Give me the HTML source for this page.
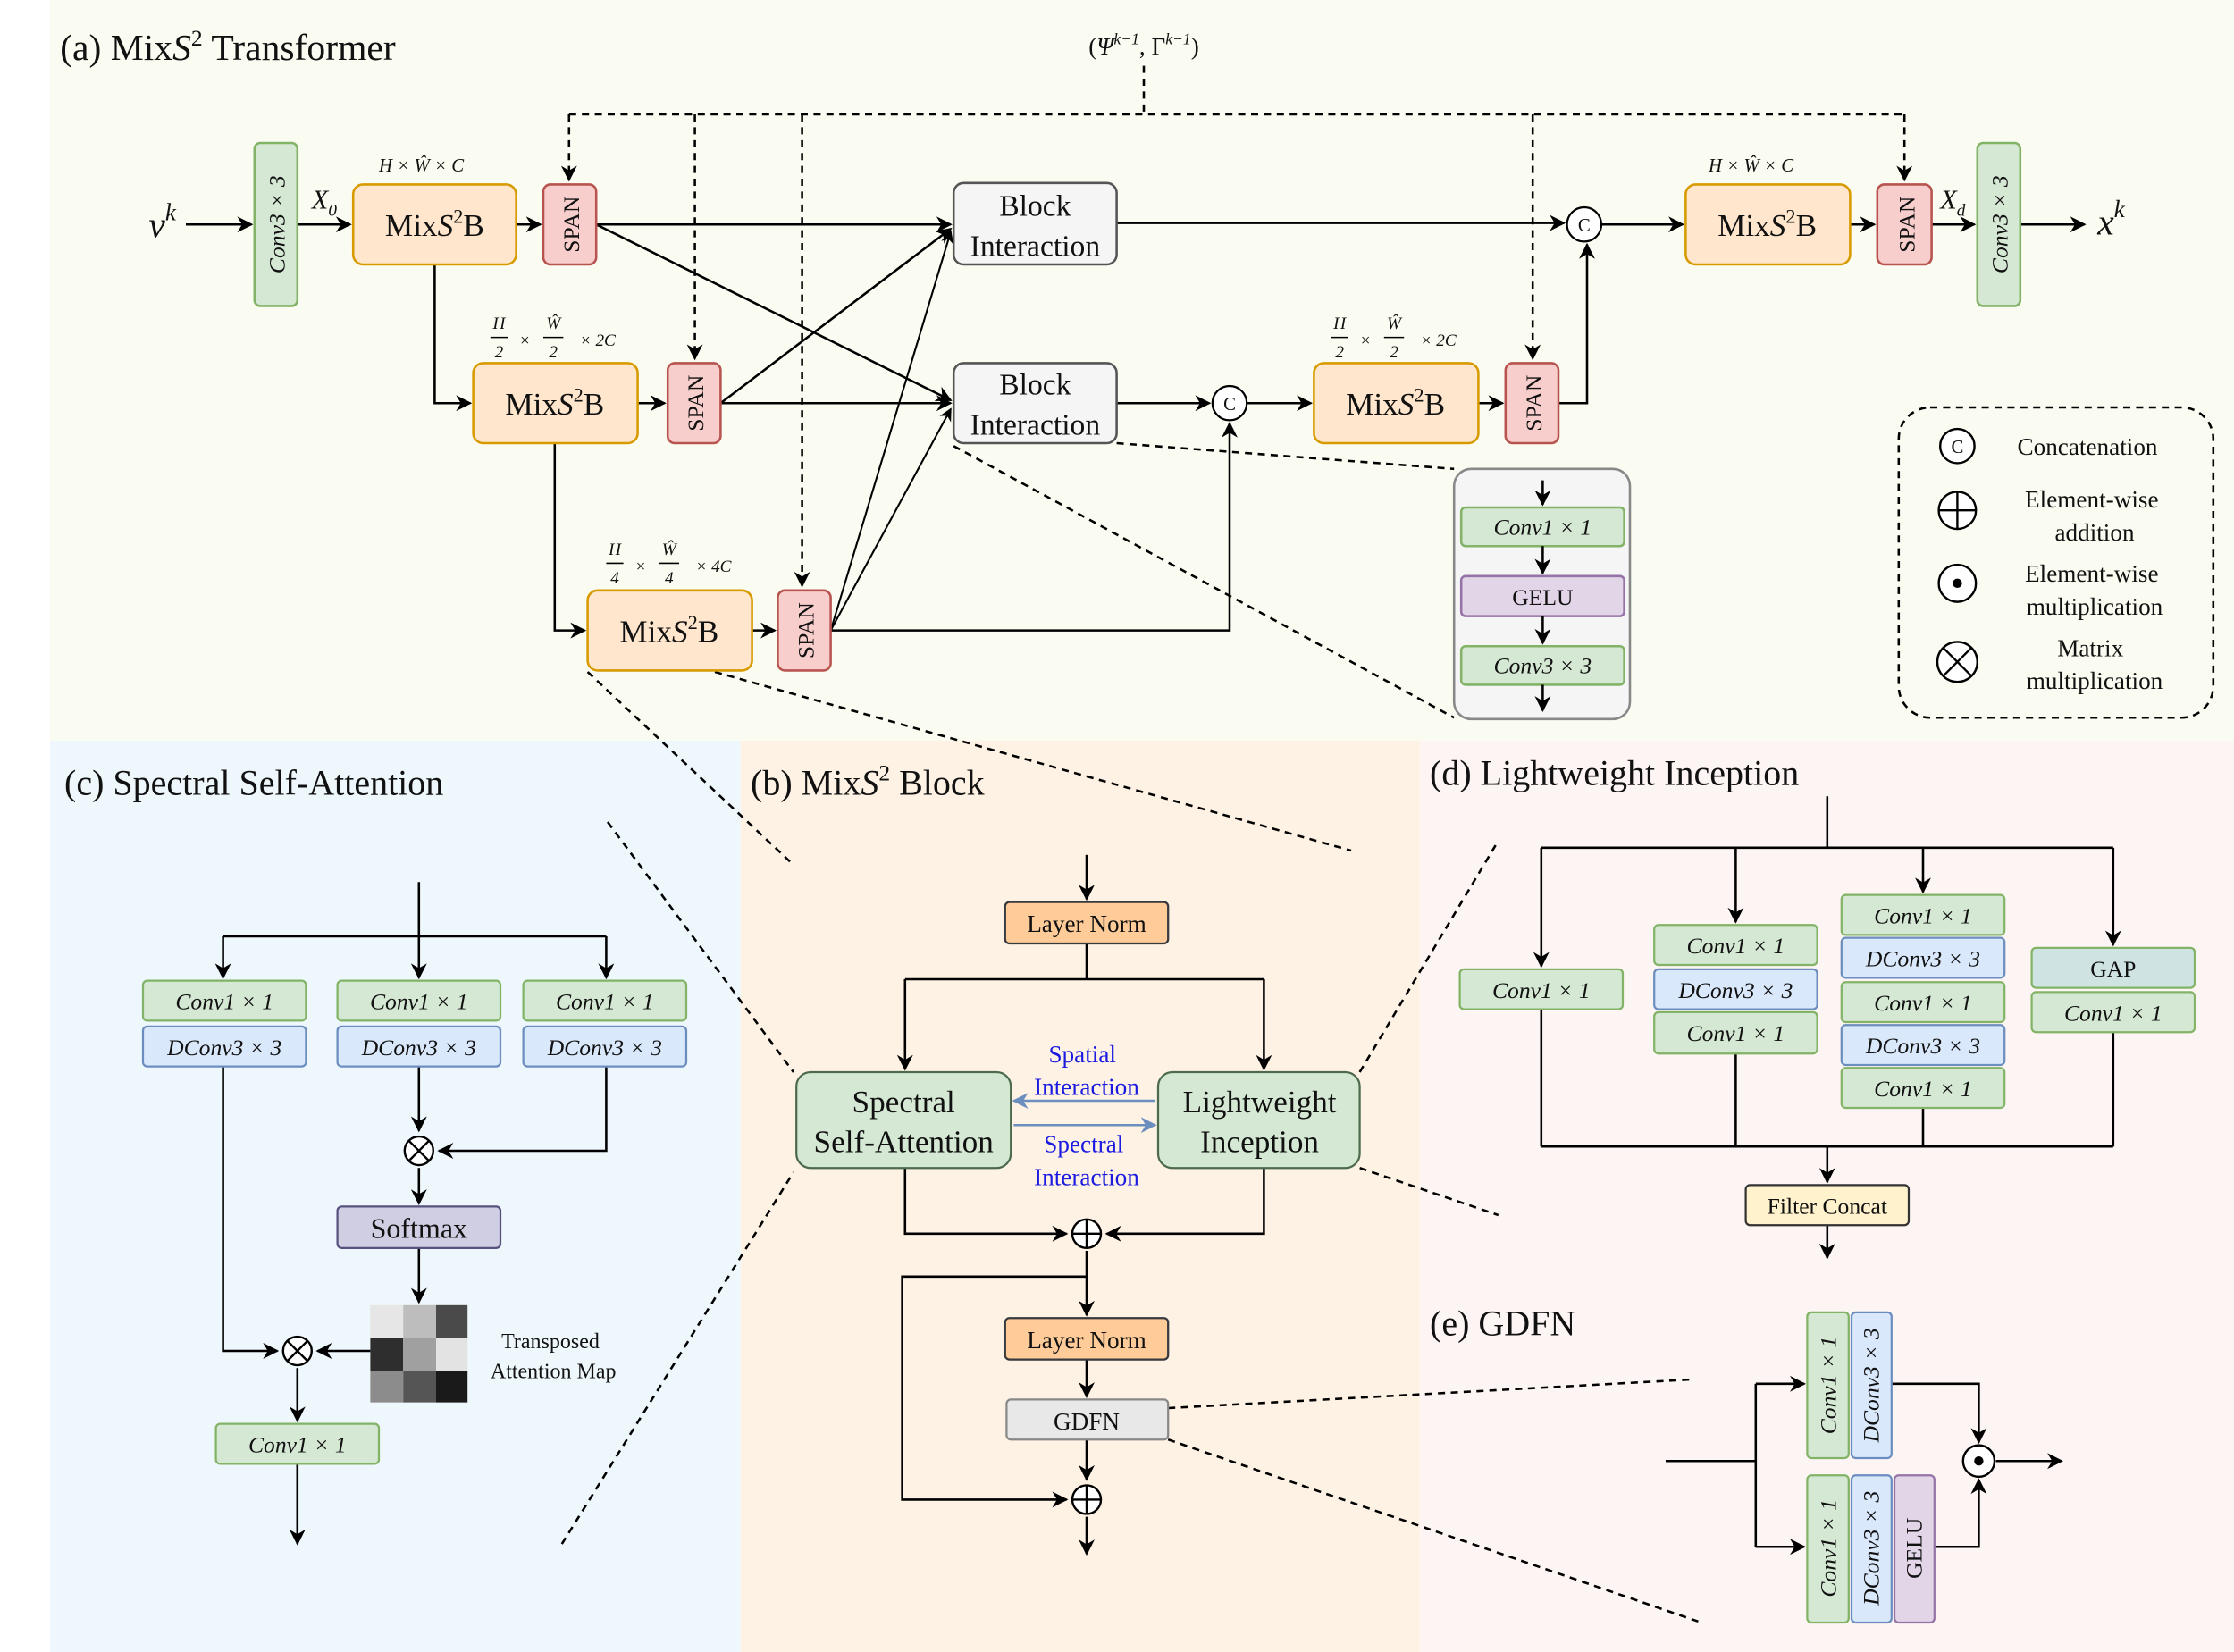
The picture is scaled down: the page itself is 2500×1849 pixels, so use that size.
<!DOCTYPE html>
<html><head><meta charset="utf-8"><style>
html,body{margin:0;padding:0;background:#fff}
svg{display:block}
text{font-family:"Liberation Serif",serif;fill:#111}
.it{font-style:italic}
text.blue{fill:#1a1ae0}
</style></head><body>
<svg width="2500" height="1849" viewBox="0 0 1562.5 1155.6" xmlns="http://www.w3.org/2000/svg">
<defs>
<marker id="a" viewBox="0 0 10 10" refX="9" refY="5" markerWidth="7" markerHeight="7" orient="auto-start-reverse"><path d="M0,0 L10,5 L0,10 L3,5z" fill="#000"/></marker>
<marker id="b" viewBox="0 0 10 10" refX="9" refY="5" markerWidth="7" markerHeight="7" orient="auto"><path d="M0,0 L10,5 L0,10 L3,5z" fill="#6c8ebf"/></marker>
</defs>
<!-- backgrounds -->
<rect x="35" y="0" width="1528" height="518" fill="#fbfcf1"/>
<rect x="35" y="518" width="483" height="638" fill="#eef7fc"/>
<rect x="518" y="518" width="475" height="638" fill="#fdf2e4"/>
<rect x="993" y="518" width="570" height="387" fill="#fdf5f3"/>
<rect x="993" y="905" width="570" height="251" fill="#fdf5f3"/>

<g stroke="#000" stroke-width="1.6" fill="none">
<!-- (a) dashed -->
<g stroke-dasharray="5,4">
<path d="M800 46 V80 M398 80 H1332"/>
<path d="M398 80 V126" marker-end="url(#a)"/>
<path d="M486 80 V251" marker-end="url(#a)"/>
<path d="M561 80 V410" marker-end="url(#a)"/>
<path d="M1072 80 V251" marker-end="url(#a)"/>
<path d="M1332 80 V126" marker-end="url(#a)"/>
<path d="M781 310 L1017 328 M667 312 L1017 502"/>
<path d="M411 470 L555 605 M500 470 L945 595"/>
<path d="M425 575 L555 750 M393 1080 L555 820"/>
<path d="M951 750 L1048 588 M951 817 L1048 850"/>
<path d="M817 985 L1183 965 M817 1007 L1190 1135"/>
</g>
<!-- (a) arrows -->
<path d="M130 157 H176" marker-end="url(#a)"/>
<path d="M208 157 H245" marker-end="url(#a)"/>
<path d="M361 157 H378" marker-end="url(#a)"/>
<path d="M417 157 H665" marker-end="url(#a)"/>
<path d="M417 157 L665 280" marker-end="url(#a)"/>
<path d="M781 156 H1094" marker-end="url(#a)"/>
<path d="M1120 157 H1177" marker-end="url(#a)"/>
<path d="M1294 157 H1311" marker-end="url(#a)"/>
<path d="M1351 157 H1381" marker-end="url(#a)"/>
<path d="M1413 157 H1458" marker-end="url(#a)"/>
<path d="M304 185 V282 H329" marker-end="url(#a)"/>
<path d="M446 282 H465" marker-end="url(#a)"/>
<path d="M504 282 H665" marker-end="url(#a)"/>
<path d="M504 282 L665 160" marker-end="url(#a)"/>
<path d="M781 282 H846" marker-end="url(#a)"/>
<path d="M872 282 H917" marker-end="url(#a)"/>
<path d="M1034 282 H1051" marker-end="url(#a)"/>
<path d="M1090 282 H1110 V171" marker-end="url(#a)"/>
<path d="M388 310 V441 H409" marker-end="url(#a)"/>
<path d="M526 441 H542" marker-end="url(#a)"/>
<path d="M581 441 H860 V296" marker-end="url(#a)"/>
<path d="M581 441 L665 162" marker-end="url(#a)" stroke-width="1.3"/>
<path d="M581 441 L665 286" marker-end="url(#a)" stroke-width="1.3"/>
<circle cx="1108" cy="157" r="12" stroke-width="1.4" fill="#fff"/>
<circle cx="860" cy="282" r="12" stroke-width="1.4" fill="#fff"/>

<!-- (c) -->
<path d="M293 617 V655 M156 655 H424"/>
<path d="M156 655 V684" marker-end="url(#a)"/>
<path d="M293 655 V684" marker-end="url(#a)"/>
<path d="M424 655 V684" marker-end="url(#a)"/>
<path d="M156 746 V945 H194" marker-end="url(#a)"/>
<path d="M293 746 V791" marker-end="url(#a)"/>
<path d="M424 746 V805 H307" marker-end="url(#a)"/>
<path d="M293 817 V842" marker-end="url(#a)"/>
<path d="M293 873 V911" marker-end="url(#a)"/>
<path d="M259 945 H222" marker-end="url(#a)"/>
<path d="M208 957 V994" marker-end="url(#a)"/>
<path d="M208 1024 V1080" marker-end="url(#a)"/>

<!-- (b) -->
<path d="M760 598 V629" marker-end="url(#a)"/>
<path d="M760 660 V685 M633 685 H884"/>
<path d="M633 685 V748" marker-end="url(#a)"/>
<path d="M884 685 V748" marker-end="url(#a)"/>
<path d="M633 817 V863 H746" marker-end="url(#a)"/>
<path d="M884 817 V863 H774" marker-end="url(#a)"/>
<path d="M760 875 V920" marker-end="url(#a)"/>
<path d="M760 893 H631 V1049 H746" marker-end="url(#a)"/>
<path d="M760 951 V977" marker-end="url(#a)"/>
<path d="M760 1007 V1035" marker-end="url(#a)"/>
<path d="M760 1061 V1087" marker-end="url(#a)"/>

<!-- (d) -->
<path d="M1278 557 V593 M1078 593 H1478"/>
<path d="M1078 593 V676" marker-end="url(#a)"/>
<path d="M1214 593 V645" marker-end="url(#a)"/>
<path d="M1345 593 V624" marker-end="url(#a)"/>
<path d="M1478 593 V661" marker-end="url(#a)"/>
<path d="M1078 706 V802 M1214 737 V802 M1345 775 V802 M1478 722 V802 M1078 802 H1478"/>
<path d="M1278 802 V827" marker-end="url(#a)"/>
<path d="M1278 857 V880" marker-end="url(#a)"/>

<!-- (e) -->
<path d="M1165 1022 H1228 M1228 968 V1082"/>
<path d="M1228 968 H1262" marker-end="url(#a)"/>
<path d="M1228 1082 H1262" marker-end="url(#a)"/>
<path d="M1323 968 H1384 V1009" marker-end="url(#a)"/>
<path d="M1353 1082 H1384 V1035" marker-end="url(#a)"/>
<path d="M1396 1022 H1442" marker-end="url(#a)"/>
</g>

<!-- operator circles -->
<g stroke="#000" stroke-width="1.5" fill="#fff">
<circle cx="293" cy="805" r="10"/><path d="M286 798 L300 812 M300 798 L286 812"/>
<circle cx="208" cy="945" r="10"/><path d="M201 938 L215 952 M215 938 L201 952"/>
<circle cx="760" cy="863" r="10"/><path d="M750 863 H770 M760 853 V873"/>
<circle cx="760" cy="1049" r="10"/><path d="M750 1049 H770 M760 1039 V1059"/>
<circle cx="1384" cy="1022" r="11"/><circle cx="1384" cy="1022" r="2.5" fill="#000"/>
</g>

<!-- (a) boxes -->
<g stroke-width="1.6">
<rect x="178" y="100" width="30" height="114" rx="4" fill="#d5e8d4" stroke="#82b366"/>
<rect x="1383" y="100" width="30" height="114" rx="4" fill="#d5e8d4" stroke="#82b366"/>
<rect x="247" y="129" width="114" height="56" rx="7" fill="#ffe6cc" stroke="#d79b00"/>
<rect x="331" y="254" width="115" height="56" rx="7" fill="#ffe6cc" stroke="#d79b00"/>
<rect x="411" y="413" width="115" height="56" rx="7" fill="#ffe6cc" stroke="#d79b00"/>
<rect x="919" y="254" width="115" height="56" rx="7" fill="#ffe6cc" stroke="#d79b00"/>
<rect x="1179" y="129" width="115" height="56" rx="7" fill="#ffe6cc" stroke="#d79b00"/>
<rect x="380" y="129" width="37" height="56" rx="5" fill="#f8cecc" stroke="#b85450"/>
<rect x="467" y="254" width="37" height="56" rx="5" fill="#f8cecc" stroke="#b85450"/>
<rect x="544" y="413" width="37" height="56" rx="5" fill="#f8cecc" stroke="#b85450"/>
<rect x="1053" y="254" width="37" height="56" rx="5" fill="#f8cecc" stroke="#b85450"/>
<rect x="1313" y="129" width="38" height="56" rx="5" fill="#f8cecc" stroke="#b85450"/>
<rect x="667" y="128" width="114" height="57" rx="7" fill="#f5f5f5" stroke="#555"/>
<rect x="667" y="254" width="114" height="56" rx="7" fill="#f5f5f5" stroke="#555"/>
<rect x="1017" y="328" width="123" height="175" rx="12" fill="#f5f5f5" stroke="#888"/>
<rect x="1022" y="355" width="114" height="27" rx="3" fill="#d5e8d4" stroke="#82b366"/>
<rect x="1022" y="403" width="114" height="28" rx="3" fill="#e1d5e7" stroke="#9673a6"/>
<rect x="1022" y="452" width="114" height="27" rx="3" fill="#d5e8d4" stroke="#82b366"/>
<rect x="1328" y="285" width="220" height="217" rx="22" fill="none" stroke="#000" stroke-dasharray="5,4"/>
</g>
<!-- detail box arrows -->
<g stroke="#000" stroke-width="1.6" fill="none">
<path d="M1079 336 V353" marker-end="url(#a)"/>
<path d="M1079 382 V401" marker-end="url(#a)"/>
<path d="M1079 431 V450" marker-end="url(#a)"/>
<path d="M1079 479 V497" marker-end="url(#a)"/>
</g>
<g stroke="#000" stroke-width="1.5" fill="#fff">
<circle cx="1369" cy="312" r="12"/>
<circle cx="1369" cy="357" r="13"/><path d="M1356 357 H1382 M1369 344 V370"/>
<circle cx="1369" cy="408" r="13"/><circle cx="1369" cy="408" r="2.5" fill="#000"/>
<circle cx="1369" cy="463" r="14"/><path d="M1359 453 L1379 473 M1379 453 L1359 473"/>
</g>

<!-- (a) text -->
<text x="42" y="42" font-size="26">(a)  Mix<tspan class="it">S</tspan><tspan font-size="16" dy="-10">2</tspan><tspan dy="10"> Transformer</tspan></text>
<text x="800" y="38" font-size="17" text-anchor="middle">(<tspan class="it">Ψ</tspan><tspan font-size="11" dy="-7" class="it">k−1</tspan><tspan dy="7">, Γ</tspan><tspan font-size="11" dy="-7" class="it">k−1</tspan><tspan dy="7">)</tspan></text>
<text x="104" y="166" font-size="26" class="it">v<tspan font-size="17" dy="-12">k</tspan></text>
<text x="1467" y="164" font-size="26" class="it">x<tspan font-size="17" dy="-12">k</tspan></text>
<text x="218" y="146" font-size="19" class="it">X<tspan font-size="12" dy="5">0</tspan></text>
<text x="1357" y="146" font-size="19" class="it">X<tspan font-size="12" dy="5">d</tspan></text>
<text transform="translate(199 157) rotate(-90)" font-size="16" text-anchor="middle" class="it">Conv3 × 3</text>
<text transform="translate(1404 157) rotate(-90)" font-size="16" text-anchor="middle" class="it">Conv3 × 3</text>
<g font-size="16" text-anchor="middle">
<text transform="translate(405 157) rotate(-90)">SPAN</text>
<text transform="translate(492 282) rotate(-90)">SPAN</text>
<text transform="translate(569 441) rotate(-90)">SPAN</text>
<text transform="translate(1078 282) rotate(-90)">SPAN</text>
<text transform="translate(1339 157) rotate(-90)">SPAN</text>
</g>
<g font-size="22" text-anchor="middle">
<text x="304" y="165">Mix<tspan class="it">S</tspan><tspan font-size="14" dy="-9">2</tspan><tspan dy="9">B</tspan></text>
<text x="388" y="290">Mix<tspan class="it">S</tspan><tspan font-size="14" dy="-9">2</tspan><tspan dy="9">B</tspan></text>
<text x="468" y="449">Mix<tspan class="it">S</tspan><tspan font-size="14" dy="-9">2</tspan><tspan dy="9">B</tspan></text>
<text x="976" y="290">Mix<tspan class="it">S</tspan><tspan font-size="14" dy="-9">2</tspan><tspan dy="9">B</tspan></text>
<text x="1236" y="165">Mix<tspan class="it">S</tspan><tspan font-size="14" dy="-9">2</tspan><tspan dy="9">B</tspan></text>
</g>
<g font-size="21" text-anchor="middle">
<text x="724" y="151">Block</text><text x="724" y="179">Interaction</text>
<text x="724" y="276">Block</text><text x="724" y="304">Interaction</text>
</g>
<g font-size="13" text-anchor="middle">
<text x="1108" y="162">C</text><text x="860" y="287">C</text><text x="1369" y="317">C</text>
</g>
<g font-size="13" class="it">
<text x="265" y="120">H × Ŵ × C</text>
<text x="1195" y="120">H × Ŵ × C</text>
</g>
<g font-size="12" class="it" text-anchor="middle">
<text x="349" y="230">H</text><text x="349" y="250">2</text><path d="M343 236 H355" stroke="#000"/>
<text x="367" y="242">×</text>
<text x="387" y="230">Ŵ</text><text x="387" y="250">2</text><path d="M380 236 H394" stroke="#000"/>
<text x="418" y="242">× 2C</text>
<text x="937" y="230">H</text><text x="937" y="250">2</text><path d="M931 236 H943" stroke="#000"/>
<text x="955" y="242">×</text>
<text x="975" y="230">Ŵ</text><text x="975" y="250">2</text><path d="M968 236 H982" stroke="#000"/>
<text x="1006" y="242">× 2C</text>
<text x="430" y="388">H</text><text x="430" y="408">4</text><path d="M424 394 H436" stroke="#000"/>
<text x="448" y="400">×</text>
<text x="468" y="388">Ŵ</text><text x="468" y="408">4</text><path d="M461 394 H475" stroke="#000"/>
<text x="499" y="400">× 4C</text>
</g>
<g font-size="16" text-anchor="middle">
<text x="1079" y="374" class="it">Conv1 × 1</text>
<text x="1079" y="423">GELU</text>
<text x="1079" y="471" class="it">Conv3 × 3</text>
</g>
<g font-size="17" text-anchor="middle">
<text x="1460" y="318">Concatenation</text>
<text x="1463" y="355">Element-wise</text><text x="1465" y="378">addition</text>
<text x="1463" y="407">Element-wise</text><text x="1465" y="430">multiplication</text>
<text x="1462" y="459">Matrix</text><text x="1465" y="482">multiplication</text>
</g>

<!-- (c) -->
<text x="45" y="556" font-size="25">(c)  Spectral Self-Attention</text>
<g stroke-width="1.4">
<rect x="100" y="686" width="114" height="28" rx="3" fill="#d5e8d4" stroke="#82b366"/>
<rect x="100" y="718" width="114" height="28" rx="3" fill="#dae8fc" stroke="#6c8ebf"/>
<rect x="236" y="686" width="114" height="28" rx="3" fill="#d5e8d4" stroke="#82b366"/>
<rect x="236" y="718" width="114" height="28" rx="3" fill="#dae8fc" stroke="#6c8ebf"/>
<rect x="366" y="686" width="114" height="28" rx="3" fill="#d5e8d4" stroke="#82b366"/>
<rect x="366" y="718" width="114" height="28" rx="3" fill="#dae8fc" stroke="#6c8ebf"/>
<rect x="236" y="844" width="114" height="29" rx="3" fill="#d0cee2" stroke="#56517e"/>
<rect x="151" y="996" width="114" height="28" rx="3" fill="#d5e8d4" stroke="#82b366"/>
</g>
<g>
<rect x="259" y="913" width="23" height="23" fill="#e6e6e6"/><rect x="282" y="913" width="23" height="23" fill="#bdbdbd"/><rect x="305" y="913" width="22" height="23" fill="#4a4a4a"/>
<rect x="259" y="936" width="23" height="23" fill="#2e2e2e"/><rect x="282" y="936" width="23" height="23" fill="#a0a0a0"/><rect x="305" y="936" width="22" height="23" fill="#e3e3e3"/>
<rect x="259" y="959" width="23" height="22" fill="#8c8c8c"/><rect x="282" y="959" width="23" height="22" fill="#555"/><rect x="305" y="959" width="22" height="22" fill="#1a1a1a"/>
</g>
<g font-size="16" text-anchor="middle" class="it">
<text x="157" y="706">Conv1 × 1</text><text x="157" y="738">DConv3 × 3</text>
<text x="293" y="706">Conv1 × 1</text><text x="293" y="738">DConv3 × 3</text>
<text x="423" y="706">Conv1 × 1</text><text x="423" y="738">DConv3 × 3</text>
<text x="208" y="1016">Conv1 × 1</text>
</g>
<text x="293" y="866" font-size="20" text-anchor="middle">Softmax</text>
<text x="385" y="943" font-size="15" text-anchor="middle">Transposed</text>
<text x="387" y="964" font-size="15" text-anchor="middle">Attention Map</text>

<!-- (b) -->
<text x="525" y="556" font-size="25">(b)  Mix<tspan class="it">S</tspan><tspan font-size="16" dy="-10">2</tspan><tspan dy="10"> Block</tspan></text>
<g stroke-width="1.4">
<rect x="703" y="631" width="114" height="29" rx="3" fill="#ffcc99" stroke="#36393d"/>
<rect x="703" y="922" width="114" height="29" rx="3" fill="#ffcc99" stroke="#36393d"/>
<rect x="704" y="979" width="113" height="28" rx="3" fill="#e8e8e8" stroke="#888"/>
<rect x="557" y="750" width="150" height="67" rx="10" fill="#d5e8d4" stroke="#4d6b4c"/>
<rect x="810" y="750" width="141" height="67" rx="10" fill="#d5e8d4" stroke="#4d6b4c"/>
</g>
<path d="M808 770 H709" stroke="#6c8ebf" stroke-width="1.6" marker-end="url(#b)"/>
<path d="M709 787 H808" stroke="#6c8ebf" stroke-width="1.6" marker-end="url(#b)"/>
<g font-size="17" text-anchor="middle">
<text x="760" y="652">Layer Norm</text>
<text x="760" y="943">Layer Norm</text>
<text x="760" y="1000">GDFN</text>
</g>
<g font-size="22" text-anchor="middle">
<text x="632" y="778">Spectral</text><text x="632" y="806">Self-Attention</text>
<text x="881" y="778">Lightweight</text><text x="881" y="806">Inception</text>
</g>
<g font-size="17" text-anchor="middle">
<text class="blue" x="757" y="743">Spatial</text><text class="blue" x="760" y="766">Interaction</text>
<text class="blue" x="758" y="806">Spectral</text><text class="blue" x="760" y="829">Interaction</text>
</g>

<!-- (d) -->
<text x="1000" y="549" font-size="25">(d)  Lightweight Inception</text>
<g stroke-width="1.4">
<rect x="1021" y="678" width="114" height="28" rx="3" fill="#d5e8d4" stroke="#82b366"/>
<rect x="1157" y="647" width="114" height="28" rx="3" fill="#d5e8d4" stroke="#82b366"/>
<rect x="1157" y="678" width="114" height="28" rx="3" fill="#dae8fc" stroke="#6c8ebf"/>
<rect x="1157" y="708" width="114" height="29" rx="3" fill="#d5e8d4" stroke="#82b366"/>
<rect x="1288" y="626" width="114" height="28" rx="3" fill="#d5e8d4" stroke="#82b366"/>
<rect x="1288" y="656" width="114" height="28" rx="3" fill="#dae8fc" stroke="#6c8ebf"/>
<rect x="1288" y="687" width="114" height="28" rx="3" fill="#d5e8d4" stroke="#82b366"/>
<rect x="1288" y="717" width="114" height="28" rx="3" fill="#dae8fc" stroke="#6c8ebf"/>
<rect x="1288" y="747" width="114" height="28" rx="3" fill="#d5e8d4" stroke="#82b366"/>
<rect x="1421" y="663" width="114" height="28" rx="3" fill="#cfe3e3" stroke="#82b366"/>
<rect x="1421" y="694" width="114" height="28" rx="3" fill="#d5e8d4" stroke="#82b366"/>
<rect x="1221" y="829" width="114" height="28" rx="3" fill="#fff2cc" stroke="#333"/>
</g>
<g font-size="16" text-anchor="middle" class="it">
<text x="1078" y="698">Conv1 × 1</text>
<text x="1214" y="667">Conv1 × 1</text><text x="1214" y="698">DConv3 × 3</text><text x="1214" y="728">Conv1 × 1</text>
<text x="1345" y="646">Conv1 × 1</text><text x="1345" y="676">DConv3 × 3</text><text x="1345" y="707">Conv1 × 1</text><text x="1345" y="737">DConv3 × 3</text><text x="1345" y="767">Conv1 × 1</text>
<text x="1478" y="714">Conv1 × 1</text>
</g>
<text x="1478" y="683" font-size="16" text-anchor="middle">GAP</text>
<text x="1278" y="849" font-size="16" text-anchor="middle">Filter Concat</text>

<!-- (e) -->
<text x="1000" y="934" font-size="25">(e)  GDFN</text>
<g stroke-width="1.4">
<rect x="1264" y="918" width="29" height="102" rx="3" fill="#d5e8d4" stroke="#82b366"/>
<rect x="1295" y="918" width="28" height="102" rx="3" fill="#dae8fc" stroke="#6c8ebf"/>
<rect x="1264" y="1032" width="29" height="103" rx="3" fill="#d5e8d4" stroke="#82b366"/>
<rect x="1295" y="1032" width="28" height="103" rx="3" fill="#dae8fc" stroke="#6c8ebf"/>
<rect x="1325" y="1032" width="28" height="103" rx="3" fill="#e1d5e7" stroke="#9673a6"/>
</g>
<g font-size="16" text-anchor="middle" class="it">
<text transform="translate(1284 969) rotate(-90)">Conv1 × 1</text>
<text transform="translate(1314 969) rotate(-90)">DConv3 × 3</text>
<text transform="translate(1284 1083) rotate(-90)">Conv1 × 1</text>
<text transform="translate(1314 1083) rotate(-90)">DConv3 × 3</text>
</g>
<text transform="translate(1344 1083) rotate(-90)" font-size="16" text-anchor="middle">GELU</text>
</svg>
</body></html>
